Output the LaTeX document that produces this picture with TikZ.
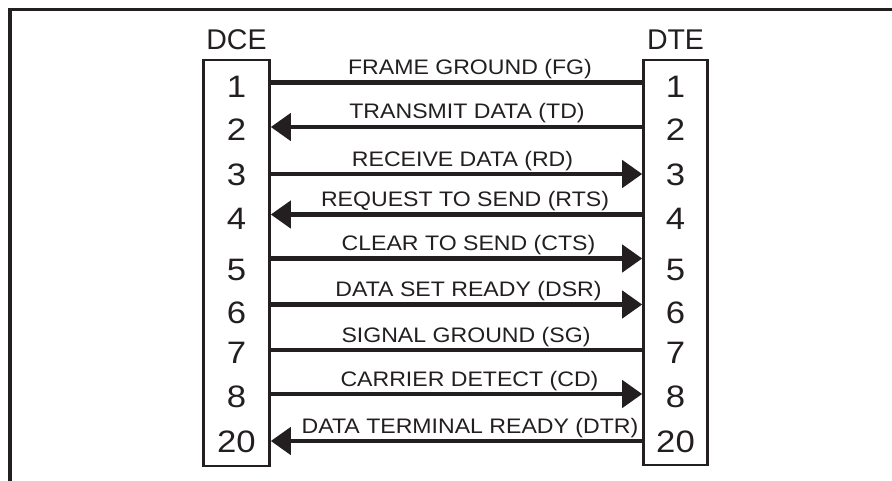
\documentclass[tikz,border=0pt]{standalone}
\usepackage{fontspec}
\setmainfont{Liberation Sans}
\usetikzlibrary{arrows.meta}
\definecolor{ink}{HTML}{231F20}
\tikzset{
  portbox/.style={draw=ink, line width=2.6pt, inner sep=0pt},
  head/.style={anchor=base, inner sep=0pt, text=ink, font=\fontsize{28.5}{30}\selectfont},
  pinno/.style={anchor=base, inner sep=0pt, text=ink, font=\fontsize{31}{32}\selectfont},
  sig/.style={anchor=base, inner sep=0pt, text=ink, font=\fontsize{21}{22}\selectfont},
  wire/.style={draw=ink, line width=4.4pt},
  toright/.style={wire, -{Triangle[length=20pt,width=27pt]}},
  toleft/.style={wire, {Triangle[length=20pt,width=27pt]}-},
  frame/.style={draw=ink, line width=3.6pt}
}
\newcommand{\wx}[1]{\scalebox{1.1}[1]{#1}}
\newcommand{\dx}[1]{\scalebox{1.12}[1]{#1}}
\begin{document}
\begin{tikzpicture}[x=1pt,y=-1pt]
\useasboundingbox (0,0) rectangle (892,480);
\draw[frame] (10,482) -- (10,9.5) -- (894,9.5);

\node[portbox, minimum width=66pt, minimum height=406pt] (dce) at (236.5,263) {};
\node[portbox, minimum width=64pt, minimum height=405pt] (dte) at (675.5,262.5) {};
\node[head] (dcelab) at (236.5,49) {DCE};
\node[head] (dtelab) at (675.5,49) {DTE};

\foreach \k/\t/\b in {1/1/97, 2/2/140, 3/3/185, 4/4/229.5, 5/5/280, 6/6/323, 7/7/363, 8/8/407, 9/20/452} {
  \node[pinno] (l\k) at (236.5,\b) {\dx{\t}};
  \node[pinno] (r\k) at (675.5,\b) {\dx{\t}};
}

\foreach \k/\y in {1/82.5, 2/127, 3/174, 4/214.5, 5/258.5, 6/304.5, 7/350, 8/394, 9/441} {
  \coordinate (a\k) at (dce.east |- 0,\y);
  \coordinate (b\k) at (dte.west |- 0,\y);
}

\draw[wire]    (a1) -- (b1);
\draw[toleft]  (a2) -- (b2);
\draw[toright] (a3) -- (b3);
\draw[toleft]  (a4) -- (b4);
\draw[toright] (a5) -- (b5);
\draw[toright] (a6) -- (b6);
\draw[wire]    (a7) -- (b7);
\draw[toright] (a8) -- (b8);
\draw[toleft]  (a9) -- (b9);

\node[sig] (s1) at (470,74.5) {\wx{FRAME GROUND (FG)}};
\node[sig] (s2) at (467,118.5) {\wx{TRANSMIT DATA (TD)}};
\node[sig] (s3) at (462.5,166.5) {\wx{RECEIVE DATA (RD)}};
\node[sig] (s4) at (465,206.5) {\wx{REQUEST TO SEND (RTS)}};
\node[sig] (s5) at (468.5,250.5) {\wx{CLEAR TO SEND (CTS)}};
\node[sig] (s6) at (468.5,296.5) {\wx{DATA SET READY (DSR)}};
\node[sig] (s7) at (466,342.5) {\wx{SIGNAL GROUND (SG)}};
\node[sig] (s8) at (469.5,386.5) {\wx{CARRIER DETECT (CD)}};
\node[sig] (s9) at (470,433) {\wx{DATA TERMINAL READY (DTR)}};
\end{tikzpicture}
\end{document}
